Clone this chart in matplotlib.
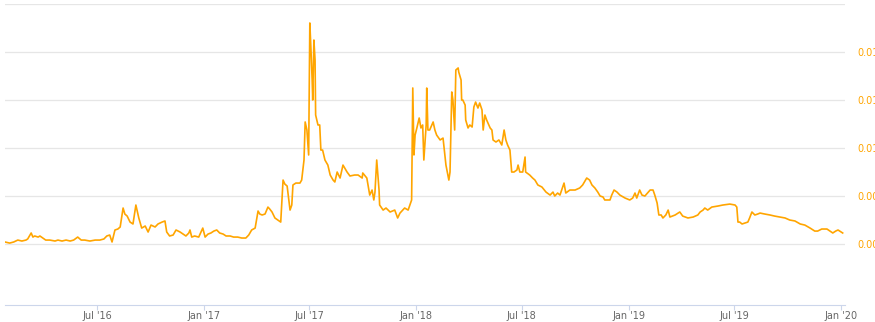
import numpy as np
import matplotlib
matplotlib.use('Agg')
import matplotlib.pyplot as plt
import matplotlib.dates as mdates

# price series, days counted from 2016-01-01
days = [24, 32, 39, 46, 53, 60, 63, 69, 72, 75, 81, 84, 89, 94, 101, 110, 115, 122, 129, 136,
        142, 149, 155, 161, 170, 179, 187, 194, 199, 204, 208, 213, 218, 222, 227, 230, 234, 239, 244, 249,
        254, 259, 265, 270, 275, 282, 287, 294, 299, 302, 307, 313, 318, 325, 330, 335, 340, 342, 345, 350,
        357, 364, 368, 373, 378, 383, 388, 393, 399, 404, 411, 417, 424, 431, 438, 443, 448, 454, 459, 462,
        466, 471, 476, 479, 483, 488, 493, 498, 502, 505, 509, 514, 517, 519, 524, 531, 534, 538, 540, 543,
        546, 548, 550, 552, 553, 555, 557, 558, 562, 565, 567, 570, 574, 579, 583, 588, 591, 595, 600, 605,
        612, 617, 625, 631, 638, 639, 646, 648, 651, 655, 658, 660, 663, 667, 668, 674, 679, 686, 694, 699,
        703, 711, 717, 720, 723, 725, 727, 729, 732, 736, 739, 742, 744, 748, 749, 751, 754, 760, 763, 766,
        772, 777, 782, 787, 789, 792, 794, 797, 799, 803, 804, 808, 809, 811, 815, 816, 820, 823, 827, 830,
        833, 837, 840, 844, 846, 849, 852, 858, 861, 863, 868, 873, 878, 882, 885, 888, 892, 895, 899, 904,
        906, 909, 914, 918, 919, 926, 931, 935, 940, 947, 954, 961, 966, 969, 974, 978, 985, 988, 995, 1004,
        1012, 1017, 1024, 1029, 1033, 1038, 1043, 1047, 1052, 1055, 1064, 1067, 1071, 1076, 1081, 1090, 1098, 1103, 1107, 1110,
        1115, 1119, 1124, 1133, 1138, 1141, 1145, 1148, 1152, 1155, 1160, 1164, 1167, 1176, 1184, 1189, 1198, 1207, 1215, 1219,
        1224, 1227, 1232, 1239, 1250, 1258, 1270, 1279, 1282, 1284, 1287, 1291, 1296, 1301, 1304, 1308, 1313, 1318, 1322, 1330,
        1339, 1347, 1356, 1365, 1373, 1382, 1391, 1399, 1408, 1416, 1421, 1428, 1437, 1442, 1447, 1452, 1456, 1459, 1464]
price = [0.00217, 0.00208, 0.00217, 0.00233, 0.00225, 0.00233, 0.00242, 0.00292, 0.00258, 0.00267,
         0.00258, 0.00267, 0.00250, 0.00233, 0.00233, 0.00225, 0.00233, 0.00225, 0.00233, 0.00225,
         0.00233, 0.00258, 0.00233, 0.00233, 0.00225, 0.00233, 0.00233, 0.00242, 0.00267, 0.00275,
         0.00217, 0.00317, 0.00325, 0.00342, 0.00500, 0.00450, 0.00433, 0.00383, 0.00367, 0.00525,
         0.00417, 0.00333, 0.00350, 0.00300, 0.00358, 0.00342, 0.00367, 0.00383, 0.00392, 0.00300,
         0.00267, 0.00275, 0.00317, 0.00300, 0.00283, 0.00267, 0.00292, 0.00317, 0.00258, 0.00267,
         0.00258, 0.00333, 0.00258, 0.00283, 0.00292, 0.00308, 0.00317, 0.00292, 0.00283, 0.00267,
         0.00267, 0.00258, 0.00258, 0.00250, 0.00250, 0.00275, 0.00317, 0.00333, 0.00475, 0.00450,
         0.00442, 0.00450, 0.00508, 0.00492, 0.00467, 0.00417, 0.00400, 0.00383, 0.00733, 0.00700,
         0.00683, 0.00483, 0.00525, 0.00692, 0.00708, 0.00708, 0.00733, 0.00900, 0.01217, 0.01150,
         0.00942, 0.02042, 0.01817, 0.01567, 0.01400, 0.01900, 0.01733, 0.01275, 0.01192, 0.01192,
         0.00983, 0.00983, 0.00900, 0.00858, 0.00775, 0.00733, 0.00717, 0.00800, 0.00750, 0.00858,
         0.00800, 0.00767, 0.00775, 0.00775, 0.00750, 0.00792, 0.00750, 0.00692, 0.00608, 0.00650,
         0.00567, 0.00633, 0.00900, 0.00650, 0.00525, 0.00483, 0.00500, 0.00467, 0.00483, 0.00417,
         0.00458, 0.00500, 0.00483, 0.00525, 0.00567, 0.01500, 0.00942, 0.01108, 0.01167, 0.01250,
         0.01167, 0.01192, 0.00900, 0.01192, 0.01500, 0.01150, 0.01150, 0.01217, 0.01150, 0.01108,
         0.01067, 0.01083, 0.00858, 0.00733, 0.00800, 0.01467, 0.01400, 0.01150, 0.01650, 0.01667,
         0.01633, 0.01567, 0.01400, 0.01400, 0.01358, 0.01233, 0.01167, 0.01192, 0.01175, 0.01342,
         0.01383, 0.01333, 0.01375, 0.01317, 0.01150, 0.01275, 0.01233, 0.01167, 0.01150, 0.01067,
         0.01050, 0.01067, 0.01025, 0.01150, 0.01067, 0.01025, 0.00983, 0.00800, 0.00800, 0.00817,
         0.00858, 0.00800, 0.00800, 0.00925, 0.00800, 0.00775, 0.00750, 0.00733, 0.00692, 0.00675,
         0.00633, 0.00608, 0.00633, 0.00600, 0.00625, 0.00608, 0.00708, 0.00625, 0.00650, 0.00650,
         0.00667, 0.00692, 0.00750, 0.00733, 0.00692, 0.00667, 0.00633, 0.00600, 0.00592, 0.00567,
         0.00567, 0.00608, 0.00650, 0.00633, 0.00608, 0.00583, 0.00567, 0.00583, 0.00625, 0.00583,
         0.00650, 0.00608, 0.00600, 0.00650, 0.00650, 0.00608, 0.00542, 0.00442, 0.00442, 0.00417,
         0.00442, 0.00483, 0.00425, 0.00442, 0.00467, 0.00433, 0.00417, 0.00425, 0.00442, 0.00467,
         0.00483, 0.00500, 0.00483, 0.00508, 0.00517, 0.00525, 0.00533, 0.00525, 0.00508, 0.00383,
         0.00383, 0.00367, 0.00375, 0.00383, 0.00417, 0.00467, 0.00442, 0.00450, 0.00458, 0.00450,
         0.00442, 0.00433, 0.00425, 0.00417, 0.00400, 0.00392, 0.00367, 0.00358, 0.00333, 0.00308,
         0.00308, 0.00325, 0.00325, 0.00308, 0.00292, 0.00308, 0.00317, 0.00308, 0.00292]

y_ticks = [0.002, 0.006, 0.010, 0.014, 0.018, 0.022]
x_ticks = ['2016-07-01', '2017-01-01', '2017-07-01', '2018-01-01', '2018-07-01',
           '2019-01-01', '2019-07-01', '2020-01-01']

base = np.datetime64('2016-01-01')
dates = base + np.array(days).astype('timedelta64[D]')

fig = plt.figure(figsize=(8.75, 3.22), dpi=100)
ax = fig.add_axes([5/875, 1 - 305/322, 840/875, 301/322])

ax.plot(dates, price, color='#ffa500', lw=1.2, solid_joinstyle='round')

ax.set_xlim(base + np.timedelta64(24, 'D'), base + np.timedelta64(1468, 'D'))
ax.set_ylim(-0.00308, 0.022)

ax.set_yticks(y_ticks)
ax.set_yticklabels(['{:.3f}'.format(v) for v in y_ticks[:-1]] + [''])
ax.yaxis.tick_right()
ax.tick_params(axis='y', length=0, pad=9, labelsize=7, labelcolor='#ffa500')
ax.grid(axis='y', color='#e6e6e6', lw=0.9)

ax.set_xticks([np.datetime64(d) for d in x_ticks])
ax.xaxis.set_major_formatter(mdates.DateFormatter("%b '%y"))
ax.tick_params(axis='x', length=3.6, width=0.8, color='#ccd6eb', labelsize=7,
               labelcolor='#666666', pad=1)

for s in ['left', 'right', 'top']:
    ax.spines[s].set_visible(False)
ax.spines['bottom'].set_color('#ccd6eb')
ax.set_axisbelow(True)

fig.savefig('out.png', dpi=100)
